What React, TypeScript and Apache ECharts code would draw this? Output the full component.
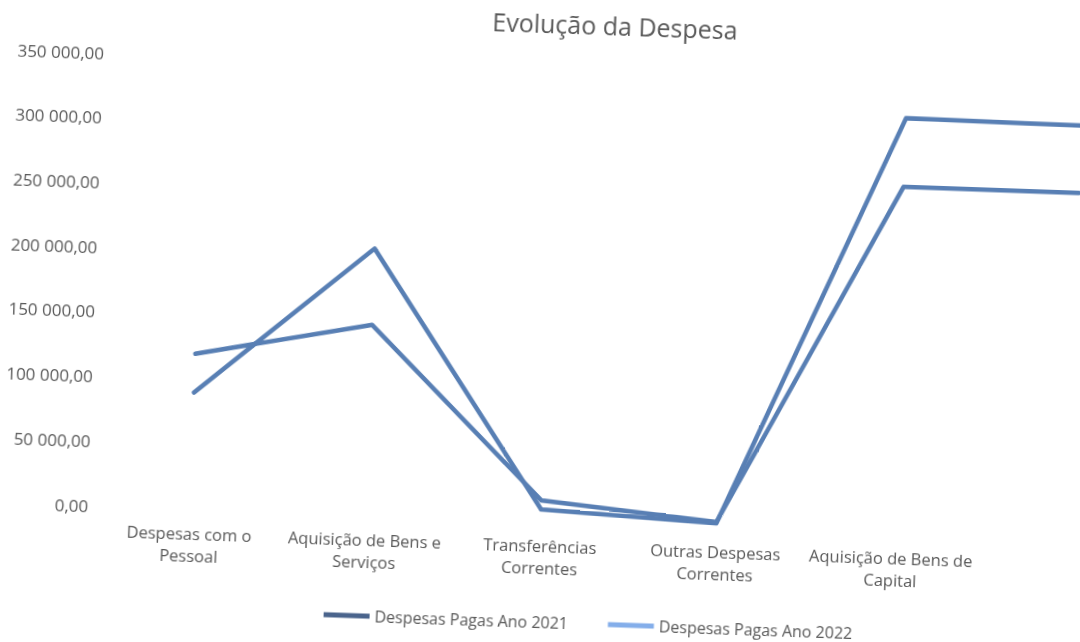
import React, { useEffect, useRef } from "react";
import * as echarts from "echarts";

const titleText = "Evolução da Despesa";
const categories = [
  "Despesas com o\nPessoal",
  "Aquisição de Bens e\nServiços",
  "Transferências\nCorrentes",
  "Outras Despesas\nCorrentes",
  "Aquisição de Bens de\nCapital",
  "Transferências de\nCapital",
];
const seriesNames = ["Despesas Pagas Ano 2021", "Despesas Pagas Ano 2022"];
const paid2021 = [90000, 206000, 9000, 3000, 321000, 320000];
const paid2022 = [120000, 147000, 16000, 4000, 268000, 268000];
const yMin = 0;
const yMax = 350000;
const yStep = 50000;
const visibleCategoryCount = 5;

const legendColors = ["#4a648c", "#84aeea"];
const lineColor = "#587fb4";
const textColor = "#595959";
const font = "'Open Sans', sans-serif";

function formatPt(v: number): string {
  const s = Math.round(v).toString();
  const groups: string[] = [];
  for (let i = s.length; i > 0; i -= 3) {
    groups.unshift(s.substring(Math.max(0, i - 3), i));
  }
  return groups.join(" ") + ",00";
}

export default function App() {
  const ref = useRef<HTMLDivElement>(null);
  useEffect(() => {
    if (!ref.current) return;
    const chart = echarts.init(ref.current, undefined, { renderer: "svg" });
    const seriesData = [paid2021, paid2022];
    chart.setOption({
      animation: false,
      backgroundColor: "#ffffff",
      textStyle: { fontFamily: font },
      title: {
        text: titleText,
        left: 477,
        top: 5,
        textStyle: {
          fontFamily: font,
          fontSize: 25,
          fontWeight: "normal",
          color: textColor,
        },
      },
      legend: {
        left: 329,
        top: 609,
        itemWidth: 46,
        itemHeight: 5,
        itemGap: 40,
        icon: "rect",
        textStyle: { fontFamily: font, fontSize: 16, color: textColor },
        data: seriesNames.map((n, i) => ({
          name: n,
          itemStyle: { color: legendColors[i], borderWidth: 0 },
        })),
      },
      grid: {
        left: 109,
        right: -82,
        top: 68,
        bottom: 121,
        containLabel: false,
        outerBoundsMode: "none",
      },
      xAxis: {
        type: "category",
        data: categories,
        boundaryGap: true,
        axisLine: { show: false },
        axisTick: { show: false },
        splitLine: { show: false },
        axisLabel: {
          interval: (i: number) => i < visibleCategoryCount,
          margin: 13,
          fontFamily: font,
          fontSize: 16.5,
          lineHeight: 22,
          color: textColor,
        },
      },
      yAxis: {
        type: "value",
        min: yMin,
        max: yMax,
        interval: yStep,
        axisLine: { show: false },
        axisTick: { show: false },
        splitLine: { show: false },
        axisLabel: {
          margin: 14,
          fontFamily: font,
          fontSize: 17,
          color: textColor,
          formatter: (v: number) => formatPt(v),
        },
      },
      series: seriesNames.map((n, i) => ({
        name: n,
        type: "line",
        data: seriesData[i],
        showSymbol: false,
        symbol: "none",
        itemStyle: { color: legendColors[i] },
        lineStyle: { color: lineColor, width: 4.5, cap: "round", join: "round" },
      })),
    });
    return () => chart.dispose();
  }, []);
  return (
    <div
      ref={ref}
      style={{
        position: "fixed",
        left: 0,
        top: 0,
        width: 1080,
        height: 642,
        background: "#ffffff",
        transform: "rotate(2deg)",
        transformOrigin: "540px 321px",
      }}
    />
  );
}
